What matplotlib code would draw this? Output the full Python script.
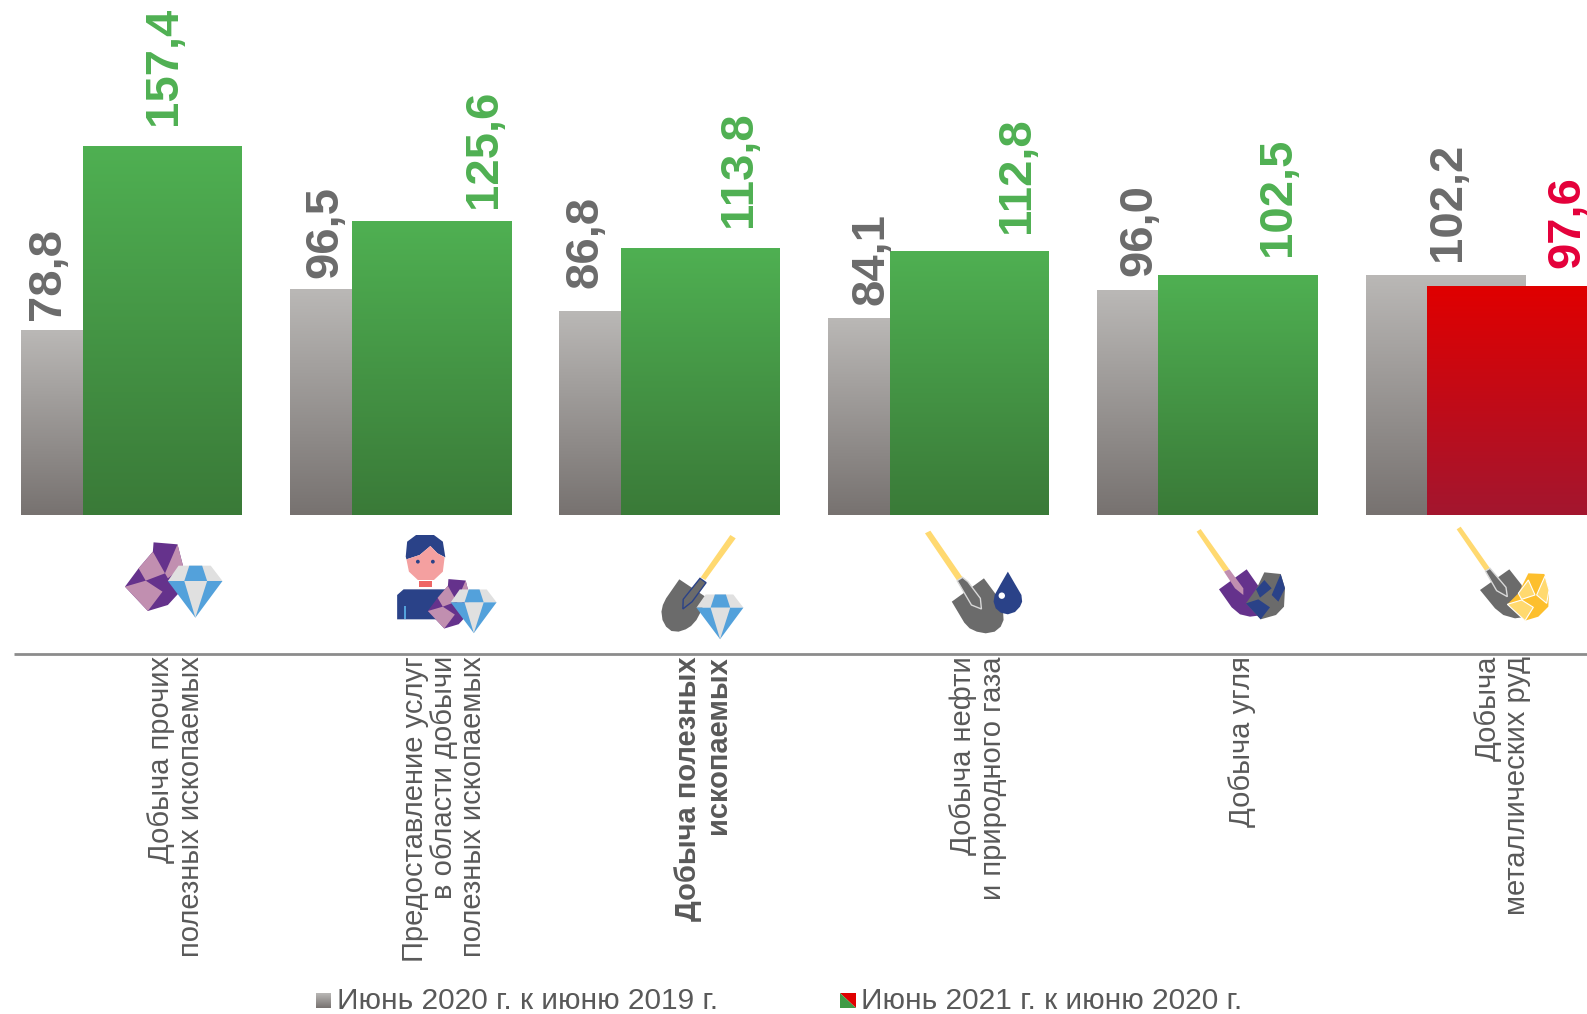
import numpy as np
import matplotlib
matplotlib.use("Agg")
import matplotlib.pyplot as plt
from matplotlib.colors import LinearSegmentedColormap
from matplotlib.patches import Polygon, Circle

plt.rcParams['font.family'] = ['Liberation Sans', 'DejaVu Sans']

labels = ["Добыча прочих\nполезных ископаемых",
          "Предоставление услуг\nв области добычи\nполезных ископаемых",
          "Добыча полезных\nископаемых",
          "Добыча нефти\nи природного газа",
          "Добыча угля",
          "Добыча\nметаллических руд"]
y2020 = [78.8, 96.5, 86.8, 84.1, 96.0, 102.2]
y2021 = [157.4, 125.6, 113.8, 112.8, 102.5, 97.6]
legend_names = ["Июнь 2020 г. к июню 2019 г.", "Июнь 2021 г. к июню 2020 г."]

W, H = 1587, 1014
BASE = 515
PX_PER_UNIT = 2.34
PITCH = 269.0
GREY = "#595959"

fig = plt.figure(figsize=(W / 100, H / 100), dpi=100)
ax = fig.add_axes([0, (H - BASE) / H, 1, BASE / H])
xlim = (-131 / PITCH, (W - 131) / PITCH)
ylim = (0, BASE / PX_PER_UNIT)


def grad(top, bottom):
    return LinearSegmentedColormap.from_list("g", [top, bottom])


grey_cm = grad("#bab8b6", "#777270")
green_cm = grad("#4fb052", "#3a7a38")
red_cm = grad("#e00000", "#a3162f")
ramp = np.linspace(0, 1, 256).reshape(-1, 1)

x = np.arange(len(y2020))
bw = 159 / PITCH
off = 31 / PITCH
b1 = ax.bar(x - off, y2020, bw, color="none")
b2 = ax.bar(x + off, y2021, bw, color="none")
for r in b1:
    ax.imshow(ramp, cmap=grey_cm, aspect="auto", zorder=2,
              extent=(r.get_x(), r.get_x() + r.get_width(), 0, r.get_height()))
for r, v in zip(b2, y2021):
    ax.imshow(ramp, cmap=green_cm if v >= 100 else red_cm, aspect="auto", zorder=3,
              extent=(r.get_x(), r.get_x() + r.get_width(), 0, r.get_height()))
ax.set_xlim(*xlim)
ax.set_ylim(*ylim)
ax.axis("off")
ax.patch.set_visible(False)

# value labels, pixel nudges from the bar top
dx_grey = [-52, -44, -53, -35, -37, 3]
dy_grey = [11, 11, 24, 13, 14, 15]
dx_new = [2, 53, 39, 48, 40, 60]
dy_new = [22, 13, 22, 18, 19, 19]
for i in x:
    ax.annotate(f"{y2020[i]:.1f}".replace(".", ","), (i - off, y2020[i]), xytext=(dx_grey[i], dy_grey[i]),
                textcoords="offset pixels", rotation=90, ha="center", va="bottom",
                fontsize=34, fontweight="bold", color="#6b6b6b", zorder=5, annotation_clip=False)
    ax.annotate(f"{y2021[i]:.1f}".replace(".", ","), (i + off, y2021[i]), xytext=(dx_new[i], dy_new[i]),
                textcoords="offset pixels", rotation=90, ha="center", va="bottom",
                fontsize=34, fontweight="bold", color="#4fb052" if y2021[i] >= 100 else "#e4003a",
                zorder=5, annotation_clip=False)

# overlay in pixels for the axis rule, icons and legend
ov = fig.add_axes([0, 0, 1, 1])
ov.set_xlim(0, W)
ov.set_ylim(H, 0)
ov.axis("off")
ov.patch.set_visible(False)

ov.plot([14, W], [654.0, 654.0], color="#8c8c8c", lw=2.0, solid_capstyle="butt")

label_x = [176, 444, 703, 978, 1242, 1502]
for i, t in enumerate(labels):
    ov.text(label_x[i], 656, t, rotation=90, ha="center", va="top", multialignment="right",
            fontsize=21, color=GREY, linespacing=1.06,
            fontweight="bold" if i == 2 else "normal")

# legend
top_c, bot_c = "#bab8b6", "#777270"
ov.imshow(ramp, cmap=grad(top_c, bot_c), extent=(316, 331, 1008, 993), aspect="auto", zorder=2)
ov.add_patch(Polygon([(840, 993), (856, 993), (856, 1008)], fc="#e00000", ec="none"))
ov.add_patch(Polygon([(840, 993), (840, 1008), (856, 1008)], fc="#3f9a45", ec="none"))
ov.set_xlim(0, W)
ov.set_ylim(H, 0)
ov.text(337, 1001, legend_names[0], va="center", ha="left", fontsize=21.5, color=GREY)
ov.text(861, 1001, legend_names[1], va="center", ha="left", fontsize=21.5, color=GREY)


def poly(pts, fc, ox, sx=2.8, ec="none", lw=0.0, z=4):
    p = [(ox + a / sx, 500 + b / 3.0) for a, b in pts]
    ov.add_patch(Polygon(p, closed=True, fc=fc, ec=ec, lw=lw, zorder=z))


def moved(pts, a0, b0, a1, b1, ka, kb):
    return [(a1 + (a - a0) * ka, b1 + (b - b0) * kb) for a, b in pts]


PURPLE, PINK = "#65328c", "#c18fb0"
LGREY, BLUE = "#e0e0e0", "#53a1db"
NAVY, YEL = "#2a4288", "#ffd970"
SHOV = "#6b6b6b"

rock = [(430, 127), (497, 133), (513, 200), (500, 280), (470, 315), (414, 333), (350, 260), (388, 205), (428, 155)]
rock_p = [[(428, 155), (462, 220), (408, 242), (388, 205)],
          [(497, 133), (513, 200), (470, 235), (462, 220)],
          [(350, 260), (408, 242), (455, 275), (414, 333)]]
dia = [[(470, 243), (500, 197), (590, 197), (623, 243)],
       [(516, 243), (530, 197), (566, 197), (580, 243)],
       [(470, 243), (623, 243), (547, 353)],
       [(516, 243), (580, 243), (547, 353)]]
dia_c = [LGREY, BLUE, BLUE, LGREY]


def gem(ox, a1, b1, k):
    poly(moved(rock, 350, 260, a1, b1, k, k), PURPLE, ox)
    for q in rock_p:
        poly(moved(q, 350, 260, a1, b1, k, k), PINK, ox)


def diamond(ox, a1, b1, k, z=5):
    for q, c in zip(dia, dia_c):
        poly(moved(q, 470, 243, a1, b1, k, k), c, ox, z=z)


# icon 1
gem(0, 350, 260, 1.0)
diamond(0, 470, 243, 1.0)

# icon 2
poly([(1136, 170), (1140, 125), (1165, 105), (1215, 105), (1240, 125), (1247, 172), (1225, 160), (1205, 138), (1175, 165), (1138, 178)], NAVY, 0)
poly([(1138, 178), (1175, 165), (1205, 138), (1225, 160), (1245, 172), (1240, 215), (1215, 240), (1170, 240), (1145, 215)], "#f4a0a0", 0)
poly([(1174, 243), (1210, 243), (1210, 262), (1174, 262)], "#ee6666", 0)
poly([(1112, 358), (1112, 285), (1130, 268), (1250, 268), (1250, 358)], NAVY, 0)
poly([(1131, 318), (1136, 318), (1136, 358), (1131, 358)], BLUE, 0)
for a in (1170, 1212):
    ov.add_patch(Circle((a / 2.8, 500 + 185 / 3), 1.9, fc=NAVY, ec="none", zorder=5))
gem(0, 1198, 333, 0.72)
diamond(0, 1262, 307, 0.84)

# icon 3
poly([(365, 105), (380, 115), (295, 240), (282, 232)], YEL, 600)
poly([(222, 238), (295, 290), (285, 330), (270, 360), (255, 378), (240, 388), (220, 395), (200, 393), (185, 380), (175, 360), (172, 335), (176, 315), (185, 295)], SHOV, 600)
poly([(280, 235), (297, 248), (258, 305), (232, 327), (233, 298)], SHOV, 600, ec=NAVY, lw=1.0)
diamond(600, 270, 323, 0.86)

# icon 4
poly([(910, 100), (925, 92), (1015, 232), (1000, 242)], YEL, 600)
poly([(1075, 235), (1120, 300), (1128, 325), (1130, 360), (1122, 380), (1105, 395), (1080, 400), (1055, 395), (1035, 385), (1020, 368), (985, 305)], SHOV, 600)
poly([(1015, 232), (1030, 245), (1065, 295), (1068, 327), (1040, 315), (1000, 242)], SHOV, 600, ec="#d8d8d8", lw=1.0)
poly([(1142, 215), (1162, 252), (1180, 285), (1182, 305), (1176, 320), (1162, 336), (1142, 343), (1122, 338), (1108, 325), (1102, 305), (1105, 285), (1122, 252)], NAVY, 600)
ov.add_patch(Circle((600 + 1125 / 2.8, 500 + 287 / 3), 3.2, fc="white", ec="none", zorder=5))

# icon 5
poly([(140, 95), (152, 87), (238, 208), (222, 215)], YEL, 1150, sx=3.0)
poly([(290, 208), (330, 265), (340, 345), (300, 350), (270, 343), (245, 322), (207, 268)], PURPLE, 1150, sx=3.0)
poly([(222, 215), (238, 208), (280, 265), (280, 285), (255, 265)], PINK, 1150, sx=3.0)
poly([(343, 217), (392, 222), (405, 265), (402, 320), (378, 345), (332, 358), (288, 310), (320, 265)], SHOV, 1150, sx=3.0, z=5)
for q in ([(343, 240), (365, 265), (330, 293), (318, 268)],
          [(392, 222), (405, 265), (385, 305), (365, 285)],
          [(288, 310), (325, 298), (360, 322), (332, 358)]):
    poly(q, NAVY, 1150, sx=3.0, z=6)

# icon 6
poly([(920, 88), (932, 80), (1020, 205), (1006, 213)], YEL, 1150, sx=3.0)
poly([(1078, 208), (1115, 255), (1130, 350), (1095, 355), (1060, 345), (1035, 325), (990, 270)], SHOV, 1150, sx=3.0)
poly([(1006, 213), (1020, 205), (1068, 262), (1072, 290), (1040, 272)], SHOV, 1150, sx=3.0, ec="#d8d8d8", lw=1.0)
poly([(1135, 220), (1183, 222), (1197, 270), (1195, 320), (1165, 350), (1125, 362), (1072, 313), (1105, 280)], "#fdbf2d", 1150, sx=3.0, z=5)
for q in ([(1135, 240), (1155, 285), (1115, 298), (1105, 280)],
          [(1185, 228), (1197, 270), (1190, 310), (1160, 285)],
          [(1072, 313), (1115, 300), (1150, 322), (1125, 362)]):
    poly(q, "#ffd96f", 1150, sx=3.0, ec="white", lw=0.8, z=6)

fig.savefig("out.png", dpi=100)
